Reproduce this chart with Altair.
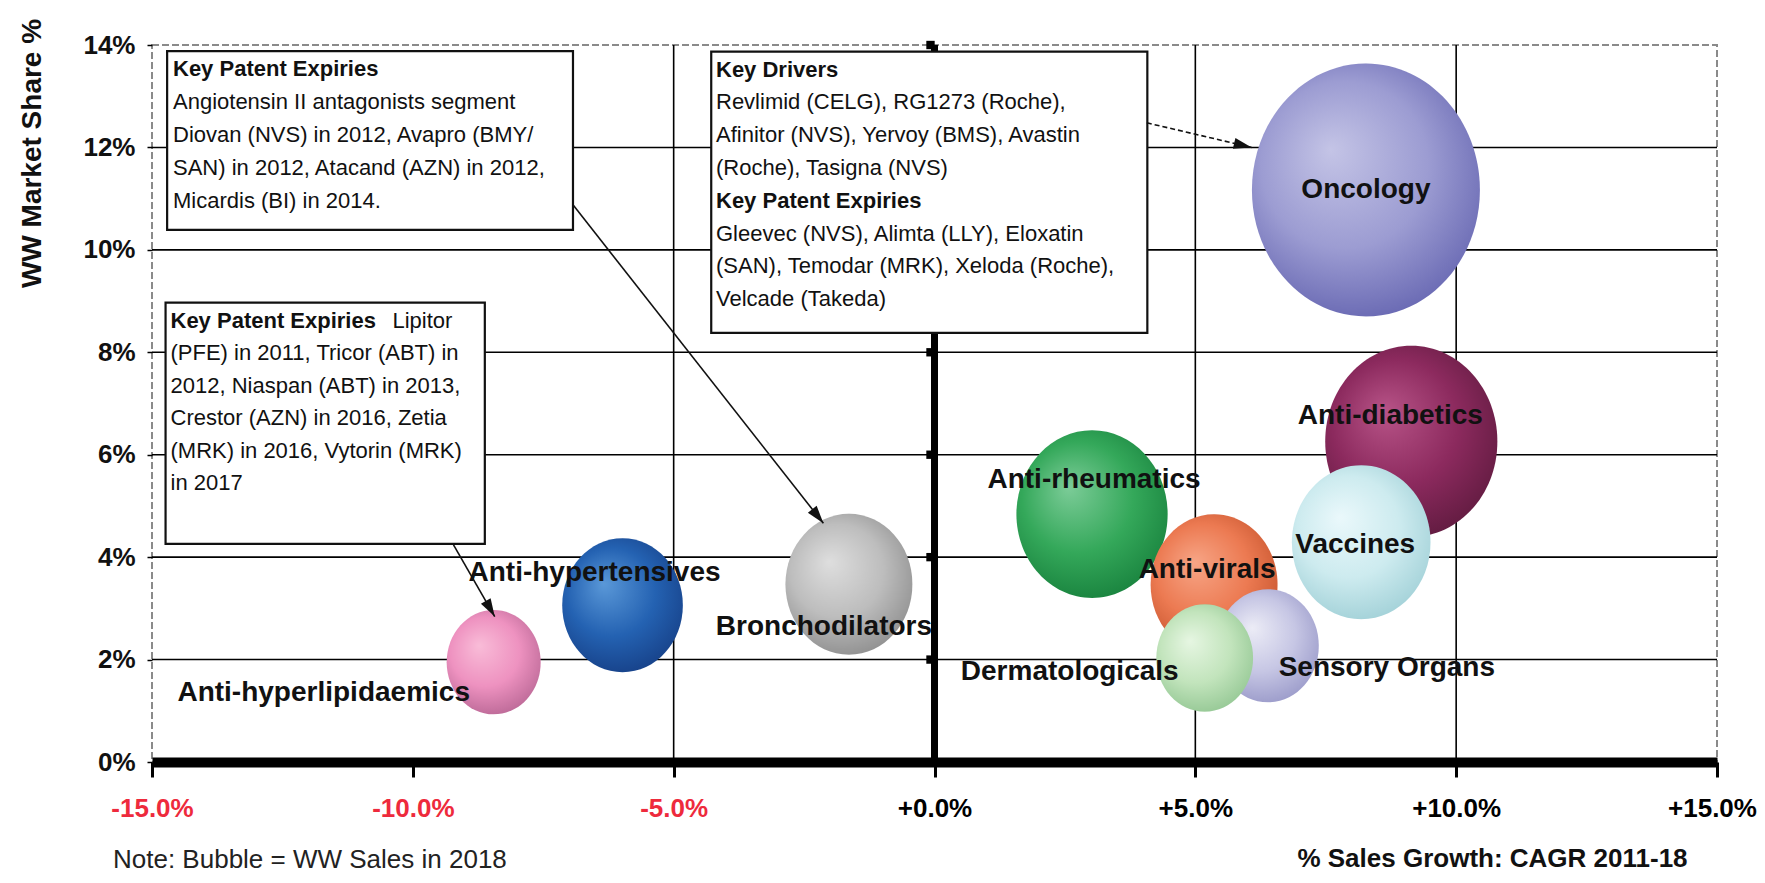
import math
import altair as alt
import pandas as pd

# ---------------- data ----------------
categories = ["Oncology", "Anti-diabetics", "Vaccines", "Anti-rheumatics", "Anti-virals",
              "Sensory Organs", "Dermatologicals", "Bronchodilators", "Anti-hypertensives",
              "Anti-hyperlipidaemics"]
growth = [8.27, 9.14, 8.18, 3.02, 5.36, 6.39, 5.18, -1.64, -5.98, -8.45]   # % CAGR 2011-18
share = [11.17, 6.26, 4.29, 4.84, 3.46, 2.27, 2.03, 3.47, 3.06, 1.95]     # WW market share %
sales = [100, 57, 37, 44, 31, 20, 18, 31, 28, 17]                         # bubble = WW sales 2018 (relative)

x_ticks = [-15, -10, -5, 0, 5, 10, 15]
y_ticks = [0, 2, 4, 6, 8, 10, 12, 14]
h_grid = [2, 4, 6, 8, 10, 12]
v_grid = [-5, 5, 10]
center_marks = [2, 4, 6, 8, 10, 12, 14]

box1_head = ["Key Patent Expiries"]
box1_body = ["Angiotensin II antagonists segment",
             "Diovan (NVS) in 2012, Avapro (BMY/",
             "SAN) in 2012, Atacand (AZN) in 2012,",
             "Micardis (BI) in 2014."]
box2_head = ["Key Patent Expiries"]
box2_head_tail = ["Lipitor"]
box2_body = ["(PFE) in 2011, Tricor (ABT) in",
             "2012, Niaspan (ABT) in 2013,",
             "Crestor (AZN) in 2016, Zetia",
             "(MRK) in 2016, Vytorin (MRK)",
             "in 2017"]
box3_head1 = ["Key Drivers"]
box3_body1 = ["Revlimid (CELG), RG1273 (Roche),",
              "Afinitor (NVS), Yervoy (BMS), Avastin",
              "(Roche), Tasigna (NVS)"]
box3_head2 = ["Key Patent Expiries"]
box3_body2 = ["Gleevec (NVS), Alimta (LLY), Eloxatin",
              "(SAN), Temodar (MRK), Xeloda (Roche),",
              "Velcade (Takeda)"]

# annotation boxes in data units: x1, x2, y_top, y_bottom
box_x1 = [-14.71, -14.74, -4.28]
box_x2 = [-6.93, -8.62, 4.08]
box_y1 = [13.88, 8.97, 13.87]
box_y2 = [10.39, 4.26, 8.38]

# arrows (data units): start -> tip
arrow_x1 = [-6.93, -9.22, 4.07]
arrow_y1 = [10.88, 4.24, 12.48]
arrow_x2 = [-2.13, -8.43, 6.08]
arrow_y2 = [4.66, 2.84, 12.00]

# ---------------- styles ----------------
W, H = 1565, 717
FONT = "Liberation Sans, Arial, Helvetica, sans-serif"
XD, YD = [-15, 15], [0, 14]
xs = alt.Scale(domain=XD, nice=False, zero=False)
ys = alt.Scale(domain=YD, nice=False, zero=False)

bubble_colors = {
    "Oncology": ("#c4c4e6", "#9c9cd2", "#6464b0"),
    "Anti-diabetics": ("#b85488", "#8c2a5e", "#5e1a3e"),
    "Vaccines": ("#eaf8fb", "#cdebef", "#9fcfd6"),
    "Anti-rheumatics": ("#7ccc98", "#34a85a", "#17803c"),
    "Anti-virals": ("#f7a586", "#ec7a52", "#c5532c"),
    "Sensory Organs": ("#ececf6", "#c6c6e4", "#9898c8"),
    "Dermatologicals": ("#e6f6e2", "#c2e4bc", "#92c692"),
    "Bronchodilators": ("#dedede", "#bdbdbd", "#8c8c8c"),
    "Anti-hypertensives": ("#5a98d8", "#2462b2", "#163f86"),
    "Anti-hyperlipidaemics": ("#f9bcd8", "#ee92c0", "#b86694"),
}
label_offsets = {
    "Oncology": (0, 0), "Anti-diabetics": (-21, -25), "Vaccines": (-6, 3),
    "Anti-rheumatics": (2, -34), "Anti-virals": (-7, -15), "Sensory Organs": (119, 22),
    "Dermatologicals": (-135, 14), "Bronchodilators": (-25, 43),
    "Anti-hypertensives": (-28, -32), "Anti-hyperlipidaemics": (-170, 31),
}
ELLIPSE = "M-1,0A1,1.11,0,1,1,1,0A1,1.11,0,1,1,-1,0Z"
ARROWHEAD = "M0,-1L-0.62,1L0.62,1Z"
RX_MAX = 114  # horizontal radius (px) of the largest bubble

df = pd.DataFrame({"cat": categories, "growth": growth, "share": share, "sales": sales})

xaxis = alt.Axis(values=x_ticks, grid=False, domainColor="black", domainWidth=10,
                 tickColor="black", tickWidth=3, tickSize=15, labelPadding=31,
                 labelBaseline="middle", labelFlush=False, labelOverlap=False,
                 labelFont=FONT, labelFontSize=26, labelFontWeight="bold",
                 labelExpr="(datum.value < 0 ? '-' : '+') + format(abs(datum.value), '.1f') + '%'",
                 labelColor={"expr": "datum.value < 0 ? '#ee2a3c' : '#000000'"},
                 labelOffset={"condition": {"test": "datum.value == 15", "value": -5}, "value": 0},
                 title="% Sales Growth: CAGR 2011-18", titleFont=FONT, titleFontSize=26,
                 titleFontWeight="bold", titleColor="#111111", titleX=1340, titleY=96,
                 titleAlign="center", titleBaseline="middle", titleAnchor="start")
yaxis = alt.Axis(values=y_ticks, grid=False, domain=False, tickColor="black", tickWidth=1.5,
                 tickSize=5, labelPadding=12, labelFont=FONT, labelFontSize=26,
                 labelFontWeight="bold", labelColor="#111111",
                 labelExpr="datum.value + '%'",
                 title="WW Market Share %", titleFont=FONT, titleFontSize=28,
                 titleFontWeight="bold", titleColor="#111111", titleAngle=270,
                 titleX=-120, titleY=108, titleAlign="center", titleBaseline="middle",
                 titleAnchor="start")


def X(field, **kw):
    return alt.X(field, scale=xs, axis=xaxis, **kw)


def Y(field, **kw):
    return alt.Y(field, scale=ys, axis=yaxis, **kw)


layers = []

# gridlines
layers.append(alt.Chart(pd.DataFrame({"v": h_grid}))
              .mark_rule(color="black", strokeWidth=1.6)
              .encode(y=Y("v:Q")))
layers.append(alt.Chart(pd.DataFrame({"v": v_grid})).mark_rule(color="black", strokeWidth=1.6)
              .encode(x=X("v:Q")))
# thick central axis at 0%
layers.append(alt.Chart(pd.DataFrame({"v": [0]})).mark_rule(color="black", strokeWidth=7)
              .encode(x=X("v:Q")))
layers.append(alt.Chart(pd.DataFrame({"v": center_marks, "z": [0] * len(center_marks)}))
              .mark_square(color="black", size=70, opacity=1, xOffset=-4)
              .encode(x=X("z:Q"), y=Y("v:Q")))

# bubbles
for c in categories:
    inner, mid, outer = bubble_colors[c]
    grad = {"gradient": "radial", "x1": 0.36, "y1": 0.34, "r1": 0.0,
            "x2": 0.46, "y2": 0.45, "r2": 0.6,
            "stops": [{"offset": 0, "color": inner}, {"offset": 0.55, "color": mid},
                      {"offset": 1, "color": outer}]}
    layers.append(
        alt.Chart(df).transform_filter(alt.datum.cat == c)
        .mark_point(shape=ELLIPSE, filled=True, fill=grad, opacity=1, fillOpacity=1,
                    strokeWidth=0)
        .encode(x=X("growth:Q"), y=Y("share:Q"),
                size=alt.Size("sales:Q", scale=alt.Scale(domain=[0, 100], range=[0, 4 * RX_MAX ** 2]),
                              legend=None))
    )

# annotation boxes
bx = pd.DataFrame({"x1": box_x1, "x2": box_x2, "y1": box_y1, "y2": box_y2})
layers.append(alt.Chart(bx).mark_rect(fill="white", stroke="#111111", strokeWidth=2.2)
              .encode(x=X("x1:Q"), x2="x2:Q", y=Y("y1:Q"), y2="y2:Q"))

# arrows
ang, hx, hy = [], [], []
for x1, y1, x2, y2 in zip(arrow_x1, arrow_y1, arrow_x2, arrow_y2):
    dxp = (x2 - x1) / 30 * W
    dyp = -(y2 - y1) / 14 * H
    L = math.hypot(dxp, dyp)
    ux, uy = dxp / L, dyp / L
    ang.append(math.degrees(math.atan2(ux, -uy)) % 360)
    hx.append(x2 - ux * 9 * 30 / W)
    hy.append(y2 + uy * 9 * 14 / H)
ar = pd.DataFrame({"x1": arrow_x1, "y1": arrow_y1, "x2": arrow_x2, "y2": arrow_y2,
                   "hx": hx, "hy": hy, "ang": ang, "dash": [0, 0, 1]})
layers.append(alt.Chart(ar).transform_filter("datum.dash == 0")
              .mark_rule(color="#111111", strokeWidth=1.6)
              .encode(x=X("x1:Q"), y=Y("y1:Q"), x2="x2:Q", y2="y2:Q"))
layers.append(alt.Chart(ar).transform_filter("datum.dash == 1")
              .mark_rule(color="#111111", strokeWidth=1.6, strokeDash=[5, 3])
              .encode(x=X("x1:Q"), y=Y("y1:Q"), x2="x2:Q", y2="y2:Q"))
layers.append(alt.Chart(ar).mark_point(shape=ARROWHEAD, filled=True, color="#111111",
                                       opacity=1, size=324, strokeWidth=0)
              .encode(x=X("hx:Q"), y=Y("hy:Q"), angle=alt.Angle("ang:Q", scale=None)))


# box text
def px_to_y(py):
    return 14 - (py - 45) / H * 14


def px_to_x(px):
    return -15 + (px - 152) / W * 30


def text_block(lines, left_px, top_px, bold, lh=33, dx=0):
    d = pd.DataFrame({"x": [px_to_x(left_px)], "y": [px_to_y(top_px)]})
    return alt.Chart(d).mark_text(text=lines, align="left", baseline="top", font=FONT,
                                  fontSize=22, lineHeight=lh, dx=dx,
                                  fontWeight="bold" if bold else "normal",
                                  color="#111111").encode(x=X("x:Q"), y=Y("y:Q"))


layers.append(text_block(box1_head, 173, 58.8, True))
layers.append(text_block(box1_body, 173, 58.8 + 33, False))
layers.append(text_block(box2_head, 170.5, 310.5, True, lh=32.5))
layers.append(text_block(box2_head_tail, 170.5, 310.5, False, lh=32.5, dx=222))
layers.append(text_block(box2_body, 170.5, 310.5 + 32.5, False, lh=32.5))
layers.append(text_block(box3_head1, 716, 59.5, True, lh=32.8))
layers.append(text_block(box3_body1, 716, 59.5 + 32.8, False, lh=32.8))
layers.append(text_block(box3_head2, 716, 59.5 + 4 * 32.8, True, lh=32.8))
layers.append(text_block(box3_body2, 716, 59.5 + 5 * 32.8, False, lh=32.8))

# bubble labels
for c in categories:
    dx, dy = label_offsets[c]
    layers.append(
        alt.Chart(df).transform_filter(alt.datum.cat == c)
        .mark_text(font=FONT, fontSize=28, fontWeight="bold", color="#111111",
                   align="center", baseline="middle", dx=dx, dy=dy)
        .encode(x=X("growth:Q"), y=Y("share:Q"), text="cat:N")
    )

# note
layers.append(
    alt.Chart(pd.DataFrame({"t": ["Note: Bubble = WW Sales in 2018"]}))
    .mark_text(font=FONT, fontSize=26, color="#222222", align="left", baseline="alphabetic")
    .encode(x=alt.value(-39), y=alt.value(823), text="t:N")
)

chart = (
    alt.layer(*layers)
    .properties(width=W, height=H, autosize=alt.AutoSizeParams(type="none"),
                padding={"left": 144, "top": 37, "right": 40, "bottom": 113},
                background="white")
    .configure_view(stroke="#8a8a8a", strokeDash=[7, 3], strokeWidth=2)
)

chart.save("out.html", embed_options={"renderer": "svg", "actions": False})
